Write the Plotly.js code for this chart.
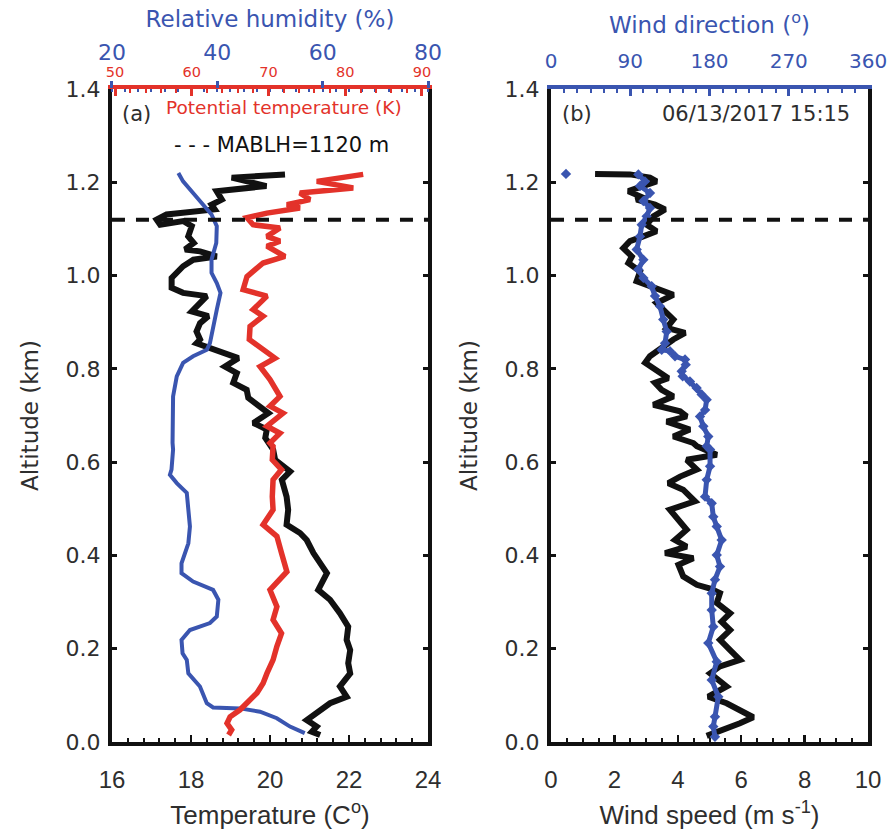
<!DOCTYPE html>
<html>
<head>
<meta charset="utf-8">
<script src="https://cdn.plot.ly/plotly-3.0.1.min.js"></script>
<style>html,body{margin:0;padding:0;background:#fff;}</style>
</head>
<body>
<div id="chart" style="width:888px;height:840px;"></div>
<script>
// ---------- Panel (a): temperature profile ----------
const tempAlt = [1.217,1.210,1.192,1.181,1.163,1.152,1.142,1.138,1.131,1.120,1.109,1.117,1.106,1.084,1.070,1.056,1.052,1.041,1.034,1.020,0.995,0.974,0.963,0.956,0.938,0.923,0.913,0.898,0.880,0.863,0.855,0.845,0.834,0.823,0.805,0.791,0.770,0.755,0.738,0.720,0.705,0.684,0.670,0.652,0.634,0.627,0.605,0.580,0.562,0.526,0.498,0.466,0.448,0.433,0.405,0.376,0.362,0.326,0.305,0.276,0.247,0.219,0.197,0.169,0.147,0.119,0.097,0.083,0.062,0.047,0.033,0.022,0.015];
const tempVal = [20.38,19.03,19.91,18.65,18.78,18.52,18.60,18.23,17.38,17.13,17.22,17.80,18.02,17.93,18.07,17.85,18.23,18.65,18.06,17.80,17.51,17.51,17.80,18.40,18.18,18.02,18.44,18.23,18.14,18.23,18.14,18.48,18.90,19.20,18.86,19.16,19.07,19.41,19.45,19.75,19.96,19.58,19.92,19.88,20.00,20.08,20.13,20.51,20.30,20.42,20.46,20.42,20.76,20.93,21.10,21.35,21.44,21.22,21.52,21.77,21.98,21.94,22.03,21.98,22.03,21.77,21.94,21.52,21.18,20.93,21.18,21.06,21.27];

// Relative humidity (%)
const rhAlt = [1.220,1.202,1.177,1.152,1.131,1.106,1.070,1.034,1.006,0.984,0.963,0.927,0.891,0.855,0.841,0.827,0.813,0.784,0.741,0.691,0.641,0.627,0.584,0.573,0.555,0.534,0.505,0.462,0.426,0.383,0.362,0.344,0.326,0.305,0.269,0.255,0.240,0.219,0.190,0.176,0.147,0.119,0.083,0.074,0.072,0.065,0.051,0.033,0.019];
const rhVal = [32.6,33.5,35.4,37.3,38.9,39.9,39.8,38.9,38.9,39.9,40.6,39.9,39.2,38.6,38.0,35.4,33.5,32.3,31.6,31.5,31.5,31.6,31.3,31.0,32.3,34.2,34.5,34.8,34.5,33.2,33.2,35.4,39.2,40.2,39.9,38.6,34.8,33.2,33.4,34.2,34.5,36.7,38.0,39.2,44.3,48.1,51.3,53.8,56.6];

// Potential temperature (K)
const ptAlt = [1.217,1.202,1.188,1.177,1.163,1.152,1.145,1.134,1.124,1.109,1.102,1.084,1.074,1.063,1.041,1.027,0.998,0.970,0.956,0.927,0.913,0.891,0.863,0.841,0.823,0.805,0.777,0.741,0.720,0.705,0.677,0.662,0.641,0.634,0.605,0.584,0.562,0.526,0.498,0.466,0.441,0.405,0.365,0.326,0.290,0.262,0.233,0.205,0.176,0.147,0.126,0.105,0.083,0.069,0.054,0.040,0.026,0.015];
const ptVal = [82.35,76.3,81.05,74.1,75.4,72.4,74.1,69.8,67.2,68.0,71.5,69.8,71.5,69.8,72.15,69.3,67.2,66.7,69.8,68.0,69.3,67.6,67.5,69.3,70.85,68.9,70.2,71.5,70.2,71.9,69.8,71.5,70.2,70.6,70.5,71.7,70.6,70.5,70.6,69.3,71.1,71.7,72.4,70.2,71.1,70.6,71.7,71.1,70.6,69.8,69.3,68.5,67.2,66.3,65.0,64.6,65.2,64.8];

// ---------- Panel (b): wind profile ----------
const wsAlt = [1.218,1.217,1.210,1.202,1.181,1.170,1.163,1.152,1.142,1.127,1.109,1.095,1.084,1.074,1.059,1.041,1.027,1.009,0.988,0.977,0.959,0.941,0.927,0.906,0.888,0.877,0.863,0.841,0.827,0.813,0.798,0.780,0.770,0.755,0.741,0.723,0.709,0.698,0.687,0.670,0.655,0.641,0.634,0.616,0.605,0.584,0.569,0.555,0.541,0.516,0.498,0.476,0.455,0.433,0.419,0.405,0.394,0.380,0.355,0.337,0.329,0.319,0.298,0.276,0.258,0.240,0.219,0.197,0.176,0.162,0.147,0.119,0.097,0.083,0.069,0.053,0.040,0.029,0.019,0.013];
const wsVal = [1.39,2.49,3.12,3.33,2.44,2.81,2.70,3.28,3.60,3.23,3.02,3.33,2.91,2.49,2.28,2.55,2.44,2.81,2.70,3.12,3.86,3.33,3.54,3.86,3.65,4.23,3.86,3.39,3.12,2.97,3.28,3.70,3.28,3.49,3.86,3.23,4.07,4.28,3.65,4.38,3.86,4.49,4.60,5.23,4.28,4.60,4.07,3.70,4.17,4.54,3.75,4.02,4.28,3.91,4.28,3.60,4.49,4.02,4.17,4.60,5.02,5.33,5.23,5.65,5.38,5.65,5.33,5.65,5.96,5.33,5.02,5.54,4.96,5.54,5.96,6.38,5.96,5.54,5.12,4.91];

const wdAlt = [1.217,1.202,1.192,1.177,1.160,1.145,1.127,1.109,1.084,1.056,1.034,1.013,0.995,0.977,0.956,0.934,0.906,0.880,0.855,0.841,0.838,0.827,0.820,0.809,0.795,0.784,0.773,0.759,0.745,0.734,0.712,0.698,0.677,0.655,0.634,0.627,0.591,0.562,0.526,0.512,0.483,0.462,0.433,0.401,0.376,0.348,0.319,0.283,0.247,0.212,0.172,0.133,0.097,0.054,0.033,0.011];
const wdVal = [99.2,106.7,101.0,112.4,104.9,112.4,108.6,103.0,101.0,97.3,104.9,99.2,104.9,114.3,118.1,123.8,127.5,131.4,129.5,125.7,135.1,140.8,152.2,153.0,148.4,149.5,157.8,165.4,171.1,176.8,175.0,169.2,173.0,178.6,176.8,180.6,180.6,176.8,174.9,182.5,184.3,188.2,193.8,188.2,191.9,186.2,182.5,182.5,184.3,178.6,188.2,182.5,190.0,186.2,184.3,186.2];
const wdTopAlt = [1.218];
const wdTopVal = [17.0];

// ---------- Axes ticks & labels ----------
const altTicks = [0, 0.2, 0.4, 0.6, 0.8, 1.0, 1.2, 1.4];
const altLabels = ['0.0','0.2','0.4','0.6','0.8','1.0','1.2','1.4'];
const tempTicks = [16, 18, 20, 22, 24];
const rhTicks = [20, 40, 60, 80];
const ptTicks = [50, 60, 70, 80, 90];
const wsTicks = [0, 2, 4, 6, 8, 10];
const wdTicks = [0, 90, 180, 270, 360];
const mablh = [1.12];

const BLACK = '#111111', BLUE = '#3a55b0', RED = '#e3322a', TXT = '#2e2e2e';
const yDom = [0.1167, 0.894];
const dL = [0.1261, 0.4820], dR = [0.6205, 0.9775];
const bottomTick = {family: 'Liberation Sans, Arial, sans-serif', size: 24, color: TXT};
const bottomTitle = {family: 'Liberation Sans, Arial, sans-serif', size: 26, color: TXT};

const traces = [
  {x: tempVal, y: tempAlt, xaxis: 'x', yaxis: 'y', mode: 'lines', line: {color: BLACK, width: 6}, hoverinfo: 'skip'},
  {x: ptVal, y: ptAlt, xaxis: 'x3', yaxis: 'y', mode: 'lines', line: {color: RED, width: 5.5}, hoverinfo: 'skip'},
  {x: rhVal, y: rhAlt, xaxis: 'x2', yaxis: 'y', mode: 'lines', line: {color: BLUE, width: 4}, hoverinfo: 'skip'},
  {x: wsVal, y: wsAlt, xaxis: 'x4', yaxis: 'y2', mode: 'lines', line: {color: BLACK, width: 6}, hoverinfo: 'skip'},
  {x: wdVal, y: wdAlt, xaxis: 'x5', yaxis: 'y2', mode: 'lines+markers', line: {color: BLUE, width: 5}, marker: {color: BLUE, size: 8, symbol: 'diamond'}, hoverinfo: 'skip'},
  {x: wdTopVal, y: wdTopAlt, xaxis: 'x5', yaxis: 'y2', mode: 'markers', marker: {color: BLUE, size: 8, symbol: 'diamond'}, hoverinfo: 'skip'}
];

function yAxis(anchor) {
  return {domain: yDom, anchor: anchor, range: [0, 1.4], tickmode: 'array', tickvals: altTicks, ticktext: altLabels,
    ticks: 'inside', ticklen: 5, tickwidth: 3, tickcolor: BLACK, showline: true, linewidth: 4, linecolor: BLACK,
    mirror: 'ticks', showgrid: false, zeroline: false,
    tickfont: {family: 'DejaVu Sans', size: 22, color: TXT}, ticklabelstandoff: 3,
    title: {text: 'Altitude (km)', font: {family: 'DejaVu Sans', size: 23, color: TXT}, standoff: 22}};
}

const layout = {
  width: 888, height: 840, margin: {l: 0, r: 0, t: 0, b: 0}, showlegend: false,
  paper_bgcolor: '#fff', plot_bgcolor: '#fff',
  font: {family: 'DejaVu Sans', color: TXT},
  xaxis: {domain: dL, anchor: 'y', range: [16, 24], tickmode: 'array', tickvals: tempTicks,
    ticks: 'inside', ticklen: 7, tickwidth: 2.5, tickcolor: BLACK, showline: true, linewidth: 4, linecolor: BLACK,
    showgrid: false, zeroline: false,
    minor: {tickmode: 'linear', tick0: 16, dtick: 0.4, ticks: 'inside', ticklen: 4, tickwidth: 2, tickcolor: BLACK, showgrid: false},
    tickfont: bottomTick, ticklabelstandoff: 13,
    title: {text: 'Temperature (C<sup>o</sup>)', font: bottomTitle, standoff: 15}},
  xaxis2: {overlaying: 'x', anchor: 'y', side: 'top', range: [20, 80], tickmode: 'array', tickvals: rhTicks,
    ticks: 'outside', ticklen: 7, tickwidth: 3, tickcolor: BLUE, showline: false, showgrid: false, zeroline: false,
    minor: {tickmode: 'linear', tick0: 20, dtick: 2.5, ticks: 'inside', ticklen: 3, tickwidth: 2, tickcolor: BLUE, showgrid: false},
    tickfont: {family: 'DejaVu Sans', size: 22, color: BLUE}, ticklabelstandoff: 12,
    title: {text: 'Relative humidity (%)', font: {family: 'DejaVu Sans', size: 23, color: BLUE}, standoff: 6}},
  xaxis3: {overlaying: 'x', anchor: 'y', side: 'top', range: [49.6, 90.8], tickmode: 'array', tickvals: ptTicks,
    ticks: 'inside', ticklen: 7, tickwidth: 3, tickcolor: RED, showline: true, linewidth: 4, linecolor: RED,
    showgrid: false, zeroline: false,
    minor: {tickmode: 'linear', tick0: 50, dtick: 2, ticks: 'inside', ticklen: 4, tickwidth: 2, tickcolor: RED, showgrid: false},
    tickfont: {family: 'DejaVu Sans', size: 14.5, color: RED}, ticklabelstandoff: 2},
  yaxis: yAxis('x'),
  xaxis4: {domain: dR, anchor: 'y2', range: [0, 10], tickmode: 'array', tickvals: wsTicks,
    ticks: 'inside', ticklen: 7, tickwidth: 2.5, tickcolor: BLACK, showline: true, linewidth: 4, linecolor: BLACK,
    showgrid: false, zeroline: false,
    minor: {tickmode: 'linear', tick0: 0, dtick: 0.5, ticks: 'inside', ticklen: 4, tickwidth: 2, tickcolor: BLACK, showgrid: false},
    tickfont: bottomTick, ticklabelstandoff: 13,
    title: {text: 'Wind speed (m s<sup>-1</sup>)', font: bottomTitle, standoff: 15}},
  xaxis5: {overlaying: 'x4', anchor: 'y2', side: 'top', range: [0, 360], tickmode: 'array', tickvals: wdTicks,
    ticks: 'inside', ticklen: 7, tickwidth: 3, tickcolor: BLUE, showline: true, linewidth: 4, linecolor: BLUE,
    showgrid: false, zeroline: false,
    minor: {tickmode: 'linear', tick0: 0, dtick: 15, ticks: 'inside', ticklen: 4, tickwidth: 2, tickcolor: BLUE, showgrid: false},
    tickfont: {family: 'DejaVu Sans', size: 20, color: BLUE}, ticklabelstandoff: 9,
    title: {text: 'Wind direction (<sup>o</sup>)', font: {family: 'DejaVu Sans', size: 23, color: BLUE}, standoff: 10}},
  yaxis2: yAxis('x4'),
  shapes: [
    {type: 'line', xref: 'x domain', yref: 'y', x0: 0, x1: 1, y0: mablh[0], y1: mablh[0], line: {color: BLACK, width: 4, dash: '13px,11px'}},
    {type: 'line', xref: 'x4 domain', yref: 'y2', x0: 0, x1: 1, y0: mablh[0], y1: mablh[0], line: {color: BLACK, width: 4, dash: '13px,11px'}}
  ],
  annotations: [
    {text: '(a)', xref: 'paper', yref: 'paper', x: 120/888, y: (840-114)/840, xanchor: 'left', yanchor: 'middle', showarrow: false, font: {family: 'DejaVu Sans', size: 21, color: TXT}},
    {text: 'Potential temperature (K)', xref: 'paper', yref: 'paper', x: 284/888, y: (840-108)/840, xanchor: 'center', yanchor: 'middle', showarrow: false, font: {family: 'DejaVu Sans', size: 18.5, color: RED}},
    {text: '- - - MABLH=1120 m', xref: 'paper', yref: 'paper', x: 172/888, y: (840-145)/840, xanchor: 'left', yanchor: 'middle', showarrow: false, font: {family: 'DejaVu Sans', size: 21, color: BLACK}},
    {text: '(b)', xref: 'paper', yref: 'paper', x: 560/888, y: (840-114)/840, xanchor: 'left', yanchor: 'middle', showarrow: false, font: {family: 'DejaVu Sans', size: 21, color: TXT}},
    {text: '06/13/2017 15:15', xref: 'paper', yref: 'paper', x: 852/888, y: (840-114)/840, xanchor: 'right', yanchor: 'middle', showarrow: false, font: {family: 'DejaVu Sans', size: 21, color: TXT}}
  ]
};

Plotly.newPlot('chart', traces, layout, {staticPlot: true, displayModeBar: false});
</script>
</body>
</html>
